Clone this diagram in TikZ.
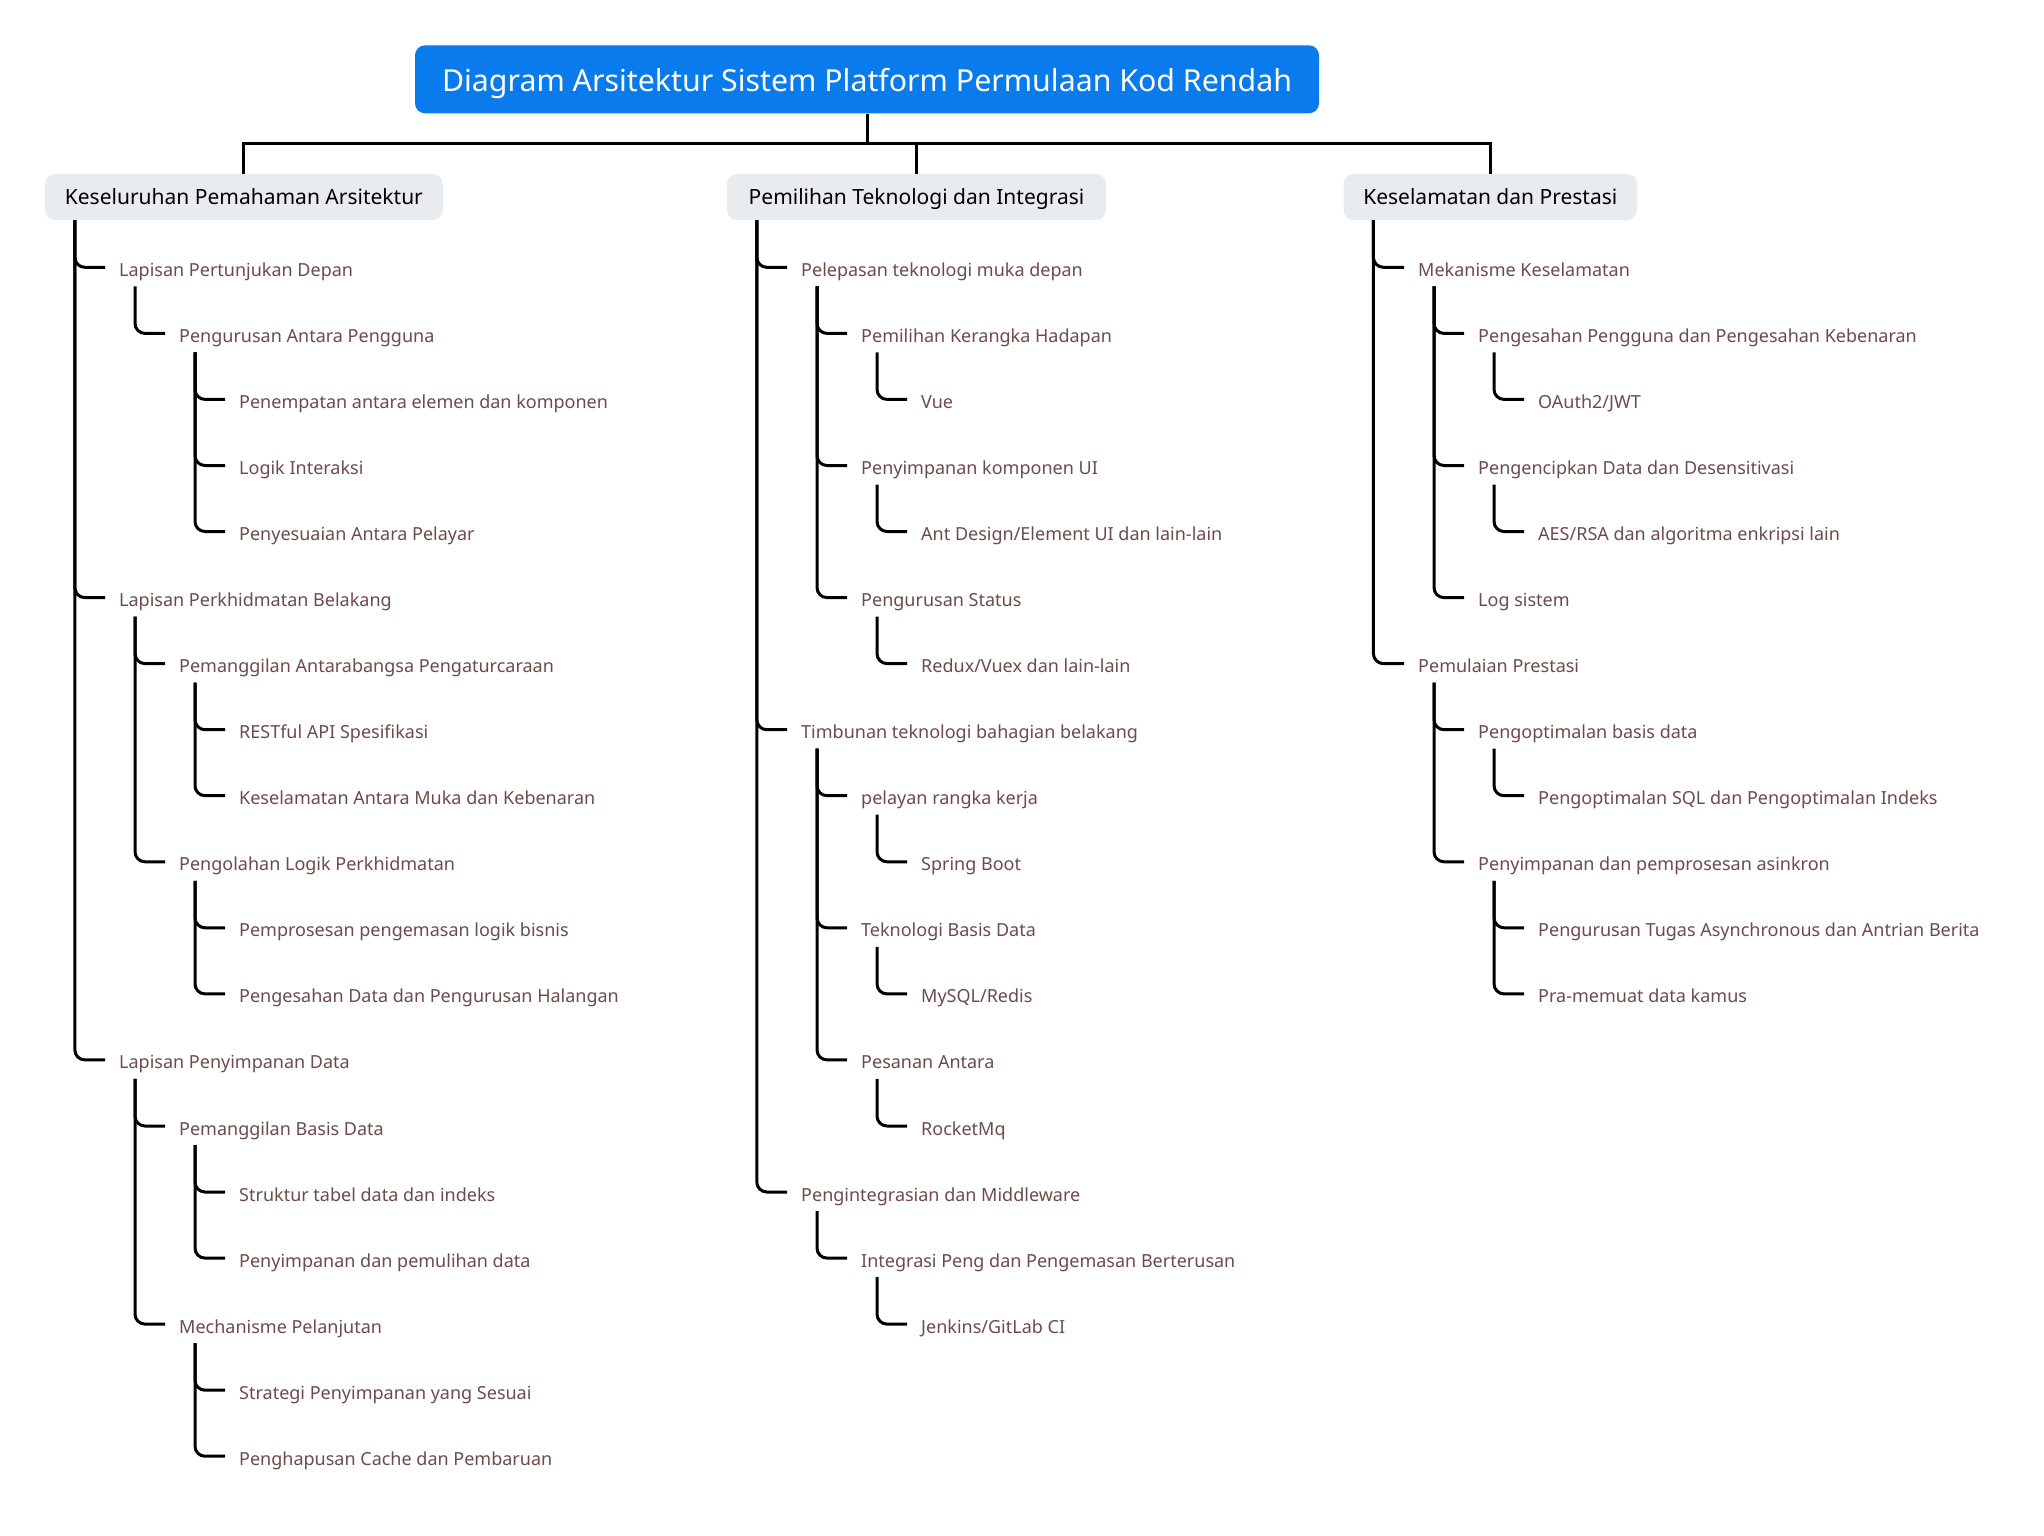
\documentclass[tikz,border=0pt]{standalone}
\usepackage{fontspec}
\setmainfont{Noto Sans}
\usetikzlibrary{calc}
\definecolor{ttl}{HTML}{0A7BEC}
\definecolor{boxg}{HTML}{E9ECEF}
\definecolor{leaf}{HTML}{6E4B4B}
\newcommand\mmroot[2]{\draw[conn] ($(#1.south west)+(30,0)$) |- ($(#2.base west)+(-14,-9)$);}
\newcommand\mmlink[2]{\draw[conn] ($(#1.base west)+(16,10)$) |- ($(#2.base west)+(-14,-9)$);}
\begin{document}
\begin{tikzpicture}[x=1pt,y=-1pt,
  conn/.style={line width=3pt, rounded corners=10pt},
  barline/.style={line width=3pt},
  leafnode/.style={anchor=base west, inner sep=0pt, text=leaf, font=\fontsize{18}{22}\selectfont},
  lonebox/.style={fill=boxg, rounded corners=10pt, minimum height=46pt, inner sep=0pt, text height=15pt, text depth=0pt, font=\fontsize{21}{25}\selectfont, text=black},
  titlebox/.style={fill=ttl, rounded corners=10pt, minimum width=904pt, minimum height=68pt, inner sep=0pt, text height=24.6pt, text depth=0pt, text=white, font=\fontsize{30.3}{36}\selectfont}
]
\useasboundingbox (0,0) rectangle (2044,1535);
\fill[white] (0,0) rectangle (2044,1535);

\node[titlebox] (title) at (867,79.3) {Diagram Arsitektur Sistem Platform Permulaan Kod Rendah};
\node[lonebox, minimum width=397.7pt] (ka) at (243.9,197) {Keseluruhan Pemahaman Arsitektur};
\node[lonebox, minimum width=379pt] (kb) at (916.5,197) {Pemilihan Teknologi dan Integrasi};
\node[lonebox, minimum width=293.4pt] (kc) at (1490.3,197) {Keselamatan dan Prestasi};
\coordinate (bar) at (0,143.3);
\draw[barline] (title.south) -- (title.south |- bar) -| (ka.north);
\draw[barline] (title.south |- bar) -| (kb.north);
\draw[barline] (title.south |- bar) -| (kc.north);

% Column 1
\node[leafnode] (a1) at (119,276.3) {Lapisan Pertunjukan Depan};
\node[leafnode] (a11) at (179,342.4) {Pengurusan Antara Pengguna};
\node[leafnode] (a111) at (239,408.4) {Penempatan antara elemen dan komponen};
\node[leafnode] (a112) at (239,474.5) {Logik Interaksi};
\node[leafnode] (a113) at (239,540.5) {Penyesuaian Antara Pelayar};
\node[leafnode] (a2) at (119,606.6) {Lapisan Perkhidmatan Belakang};
\node[leafnode] (a21) at (179,672.6) {Pemanggilan Antarabangsa Pengaturcaraan};
\node[leafnode] (a211) at (239,738.7) {RESTful API Spesifikasi};
\node[leafnode] (a212) at (239,804.7) {Keselamatan Antara Muka dan Kebenaran};
\node[leafnode] (a22) at (179,870.8) {Pengolahan Logik Perkhidmatan};
\node[leafnode] (a221) at (239,936.8) {Pemprosesan pengemasan logik bisnis};
\node[leafnode] (a222) at (239,1002.9) {Pengesahan Data dan Pengurusan Halangan};
\node[leafnode] (a3) at (119,1068.9) {Lapisan Penyimpanan Data};
\node[leafnode] (a31) at (179,1135.0) {Pemanggilan Basis Data};
\node[leafnode] (a311) at (239,1201.0) {Struktur tabel data dan indeks};
\node[leafnode] (a312) at (239,1267.1) {Penyimpanan dan pemulihan data};
\node[leafnode] (a32) at (179,1333.1) {Mechanisme Pelanjutan};
\node[leafnode] (a321) at (239,1399.2) {Strategi Penyimpanan yang Sesuai};
\node[leafnode] (a322) at (239,1465.2) {Penghapusan Cache dan Pembaruan};

\mmroot{ka}{a1} \mmroot{ka}{a2} \mmroot{ka}{a3}
\mmlink{a1}{a11}
\mmlink{a11}{a111} \mmlink{a11}{a112} \mmlink{a11}{a113}
\mmlink{a2}{a21} \mmlink{a2}{a22}
\mmlink{a21}{a211} \mmlink{a21}{a212}
\mmlink{a22}{a221} \mmlink{a22}{a222}
\mmlink{a3}{a31} \mmlink{a3}{a32}
\mmlink{a31}{a311} \mmlink{a31}{a312}
\mmlink{a32}{a321} \mmlink{a32}{a322}

% Column 2
\node[leafnode] (b1) at (801,276.3) {Pelepasan teknologi muka depan};
\node[leafnode] (b11) at (861,342.4) {Pemilihan Kerangka Hadapan};
\node[leafnode] (b111) at (921,408.4) {Vue};
\node[leafnode] (b12) at (861,474.5) {Penyimpanan komponen UI};
\node[leafnode] (b121) at (921,540.5) {Ant Design/Element UI dan lain-lain};
\node[leafnode] (b13) at (861,606.6) {Pengurusan Status};
\node[leafnode] (b131) at (921,672.6) {Redux/Vuex dan lain-lain};
\node[leafnode] (b2) at (801,738.7) {Timbunan teknologi bahagian belakang};
\node[leafnode] (b21) at (861,804.7) {pelayan rangka kerja};
\node[leafnode] (b211) at (921,870.8) {Spring Boot};
\node[leafnode] (b22) at (861,936.8) {Teknologi Basis Data};
\node[leafnode] (b221) at (921,1002.9) {MySQL/Redis};
\node[leafnode] (b23) at (861,1068.9) {Pesanan Antara};
\node[leafnode] (b231) at (921,1135.0) {RocketMq};
\node[leafnode] (b3) at (801,1201.0) {Pengintegrasian dan Middleware};
\node[leafnode] (b31) at (861,1267.1) {Integrasi Peng dan Pengemasan Berterusan};
\node[leafnode] (b311) at (921,1333.1) {Jenkins/GitLab CI};

\mmroot{kb}{b1} \mmroot{kb}{b2} \mmroot{kb}{b3}
\mmlink{b1}{b11} \mmlink{b1}{b12} \mmlink{b1}{b13}
\mmlink{b11}{b111} \mmlink{b12}{b121} \mmlink{b13}{b131}
\mmlink{b2}{b21} \mmlink{b2}{b22} \mmlink{b2}{b23}
\mmlink{b21}{b211} \mmlink{b22}{b221} \mmlink{b23}{b231}
\mmlink{b3}{b31} \mmlink{b31}{b311}

% Column 3
\node[leafnode] (c1) at (1418,276.3) {Mekanisme Keselamatan};
\node[leafnode] (c11) at (1478,342.4) {Pengesahan Pengguna dan Pengesahan Kebenaran};
\node[leafnode] (c111) at (1538,408.4) {OAuth2/JWT};
\node[leafnode] (c12) at (1478,474.5) {Pengencipkan Data dan Desensitivasi};
\node[leafnode] (c121) at (1538,540.5) {AES/RSA dan algoritma enkripsi lain};
\node[leafnode] (c13) at (1478,606.6) {Log sistem};
\node[leafnode] (c2) at (1418,672.6) {Pemulaian Prestasi};
\node[leafnode] (c21) at (1478,738.7) {Pengoptimalan basis data};
\node[leafnode] (c211) at (1538,804.7) {Pengoptimalan SQL dan Pengoptimalan Indeks};
\node[leafnode] (c22) at (1478,870.8) {Penyimpanan dan pemprosesan asinkron};
\node[leafnode] (c221) at (1538,936.8) {Pengurusan Tugas Asynchronous dan Antrian Berita};
\node[leafnode] (c222) at (1538,1002.9) {Pra-memuat data kamus};

\mmroot{kc}{c1} \mmroot{kc}{c2}
\mmlink{c1}{c11} \mmlink{c1}{c12} \mmlink{c1}{c13}
\mmlink{c11}{c111} \mmlink{c12}{c121}
\mmlink{c2}{c21} \mmlink{c2}{c22}
\mmlink{c21}{c211}
\mmlink{c22}{c221} \mmlink{c22}{c222}
\end{tikzpicture}
\end{document}
